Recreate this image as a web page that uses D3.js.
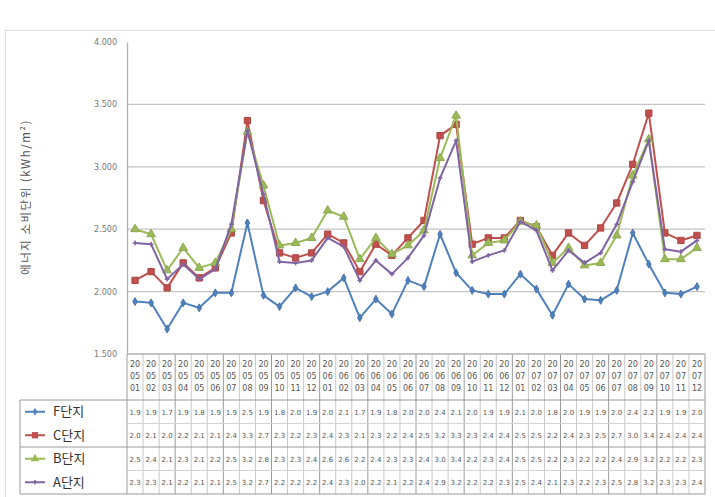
<!DOCTYPE html>
<html>
<head>
<meta charset="utf-8">
<script src="https://cdn.jsdelivr.net/npm/d3@7"></script>
<style>
  body { margin: 0; background: #fff; }
  svg { display: block; font-family: "Noto Sans CJK KR", "Noto Sans", sans-serif; }
</style>
</head>
<body>
<svg id="chart" width="715" height="497"></svg>
<script>
// ==================================
// DATA
// ==================================
const months = [
  "2005/01","2005/02","2005/03","2005/04","2005/05","2005/06","2005/07","2005/08","2005/09","2005/10","2005/11","2005/12",
  "2006/01","2006/02","2006/03","2006/04","2006/05","2006/06","2006/07","2006/08","2006/09","2006/10","2006/11","2006/12",
  "2007/01","2007/02","2007/03","2007/04","2007/05","2007/06","2007/07","2007/08","2007/09","2007/10","2007/11","2007/12"
];
const seriesNames = ["F단지", "C단지", "B단지", "A단지"];

const valuesF = [1.92,1.91,1.70,1.91,1.87,1.99,1.99,2.55,1.97,1.88,2.03,1.96,
                 2.00,2.11,1.79,1.94,1.82,2.09,2.04,2.46,2.15,2.01,1.98,1.98,
                 2.14,2.02,1.81,2.06,1.94,1.93,2.01,2.47,2.22,1.99,1.98,2.04];
const valuesC = [2.09,2.16,2.03,2.23,2.11,2.19,2.47,3.37,2.73,2.31,2.27,2.31,
                 2.46,2.39,2.16,2.38,2.29,2.43,2.57,3.25,3.34,2.38,2.43,2.43,
                 2.57,2.52,2.29,2.47,2.37,2.51,2.71,3.02,3.43,2.47,2.41,2.45];
const valuesB = [2.50,2.46,2.17,2.35,2.19,2.23,2.50,3.28,2.85,2.37,2.39,2.43,
                 2.65,2.60,2.26,2.43,2.30,2.37,2.49,3.07,3.41,2.29,2.39,2.41,
                 2.56,2.53,2.23,2.35,2.21,2.23,2.45,2.93,3.22,2.26,2.26,2.35];
const valuesA = [2.39,2.38,2.10,2.22,2.10,2.18,2.54,3.29,2.78,2.24,2.23,2.25,
                 2.43,2.36,2.09,2.25,2.14,2.27,2.45,2.91,3.21,2.24,2.29,2.33,
                 2.56,2.49,2.17,2.33,2.23,2.31,2.54,2.88,3.21,2.34,2.32,2.41];
const yTicks = [1.5, 2.0, 2.5, 3.0, 3.5, 4.0];

const series = [
  { name: seriesNames[0], values: valuesF, color: "#4f81bd", marker: "diamond" },
  { name: seriesNames[1], values: valuesC, color: "#c0504d", marker: "square" },
  { name: seriesNames[2], values: valuesB, color: "#9bbb59", marker: "triangle" },
  { name: seriesNames[3], values: valuesA, color: "#8064a2", marker: "cross" }
];

// ==================================
// LAYOUT
// ==================================
const svg = d3.select("#chart");
const plot = { left: 127, right: 705, top: 42, bottom: 354 };
const tableLeft = 20;
const headerBottom = 400;
const rowH = 23.5;

const x = d3.scaleBand().domain(months).range([plot.left, plot.right]);
const y = d3.scaleLinear().domain([1.5, 4.0]).range([plot.bottom, plot.top]);
const cx = d => x(d) + x.bandwidth() / 2;

// outer frame
svg.append("rect")
  .attr("x", 5.5).attr("y", 30.5).attr("width", 715).attr("height", 470)
  .attr("fill", "none").attr("stroke", "#dcdcdc");

// gridlines
svg.append("g")
  .selectAll("line")
  .data(yTicks.filter(t => t > 1.5 && t < 4.0))
  .enter().append("line")
  .attr("x1", plot.left).attr("x2", plot.right)
  .attr("y1", d => y(d)).attr("y2", d => y(d))
  .attr("stroke", "#c4c4c4").attr("stroke-width", 1.3);

// y axis
const yAxis = svg.append("g")
  .attr("transform", `translate(${plot.left},0)`)
  .call(d3.axisLeft(y).tickValues(yTicks).tickFormat(d3.format(".3f")).tickSize(0).tickPadding(10));
yAxis.select(".domain").attr("stroke", "#b0b0b0").attr("stroke-width", 1.3);
yAxis.selectAll("text").attr("fill", "#777").style("font-size", "8px")
  .style("font-family", "'DejaVu Sans', sans-serif");

// y label
svg.append("text")
  .attr("transform", "translate(30,197) rotate(-90)")
  .attr("text-anchor", "middle")
  .attr("fill", "#555")
  .style("font-size", "11.5px")
  .style("letter-spacing", "1.5px")
  .text("에너지 소비단위 (kWh/m²)");

// ==================================
// LINES + MARKERS
// ==================================
function markerPath(type) {
  if (type === "diamond") return d3.symbol(d3.symbolDiamond, 18)();
  if (type === "square") return d3.symbol(d3.symbolSquare, 40)();
  if (type === "triangle") return d3.symbol(d3.symbolTriangle, 32)();
  return d3.symbol(d3.symbolCross, 12)();
}

const line = d3.line().x((d, i) => cx(months[i])).y(d => y(d));

series.forEach(s => {
  svg.append("path")
    .datum(s.values)
    .attr("d", line)
    .attr("fill", "none")
    .attr("stroke", s.color)
    .attr("stroke-width", 2)
    .attr("stroke-linejoin", "round");
  svg.append("g")
    .selectAll("path")
    .data(s.values)
    .enter().append("path")
    .attr("d", markerPath(s.marker))
    .attr("transform", (d, i) => `translate(${cx(months[i])},${y(d)})`)
    .attr("fill", s.color)
    .attr("stroke", s.marker === "cross" ? "none" : d3.color(s.color).darker(0.3));
});

// ==================================
// DATA TABLE
// ==================================
const tbl = svg.append("g");
const tableBottom = headerBottom + rowH * 4;

// header cells (category labels)
months.forEach(m => {
  const parts = ["20", m.slice(2, 4), m.slice(5, 7)];
  parts.forEach((p, k) => {
    tbl.append("text")
      .attr("x", cx(m)).attr("y", 367 + k * 12)
      .attr("text-anchor", "middle")
      .attr("fill", "#555")
      .style("font-size", "8px")
      .style("font-family", "'DejaVu Sans', sans-serif")
      .text(p);
  });
});

// column lines
const edges = months.map(m => x(m)).concat([plot.right]);
tbl.selectAll("line.col")
  .data(edges)
  .enter().append("line")
  .attr("class", "col")
  .attr("x1", d => d).attr("x2", d => d)
  .attr("y1", plot.bottom).attr("y2", tableBottom)
  .attr("stroke", (d, i) => i % 3 === 0 ? "#9a9a9a" : "#c8c8c8")
  .attr("stroke-width", 1);

// horizontal lines
tbl.append("line").attr("x1", plot.left).attr("x2", plot.right)
  .attr("y1", plot.bottom).attr("y2", plot.bottom).attr("stroke", "#b0b0b0").attr("stroke-width", 1.3);
[0, 1, 2, 3, 4].forEach(r => {
  const yy = headerBottom + r * rowH;
  const strong = r === 0 || r === 2 || r === 4;
  tbl.append("line")
    .attr("x1", strong ? tableLeft : plot.left).attr("x2", plot.right)
    .attr("y1", yy).attr("y2", yy)
    .attr("stroke", strong ? "#9a9a9a" : "#d4d4d4");
});
tbl.append("line").attr("x1", tableLeft).attr("x2", tableLeft)
  .attr("y1", headerBottom).attr("y2", tableBottom).attr("stroke", "#9a9a9a");

// rows: legend key + values
const trunc = v => (Math.floor(v * 10 + 1e-6) / 10).toFixed(1);
series.forEach((s, r) => {
  const ry = headerBottom + r * rowH + rowH / 2;
  tbl.append("line")
    .attr("x1", 25).attr("x2", 45).attr("y1", ry).attr("y2", ry)
    .attr("stroke", s.color).attr("stroke-width", 2);
  tbl.append("path")
    .attr("d", markerPath(s.marker))
    .attr("transform", `translate(35,${ry})`)
    .attr("fill", s.color);
  tbl.append("text")
    .attr("x", 53).attr("y", ry + 4.5)
    .attr("fill", "#333")
    .style("font-size", "13px")
    .text(s.name);
  tbl.selectAll(null)
    .data(s.values)
    .enter().append("text")
    .attr("x", (d, i) => cx(months[i]))
    .attr("y", ry + 3)
    .attr("text-anchor", "middle")
    .attr("fill", "#555")
    .style("font-size", "7px")
    .style("font-family", "'DejaVu Sans', sans-serif")
    .text(d => trunc(d));
});
</script>
</body>
</html>
